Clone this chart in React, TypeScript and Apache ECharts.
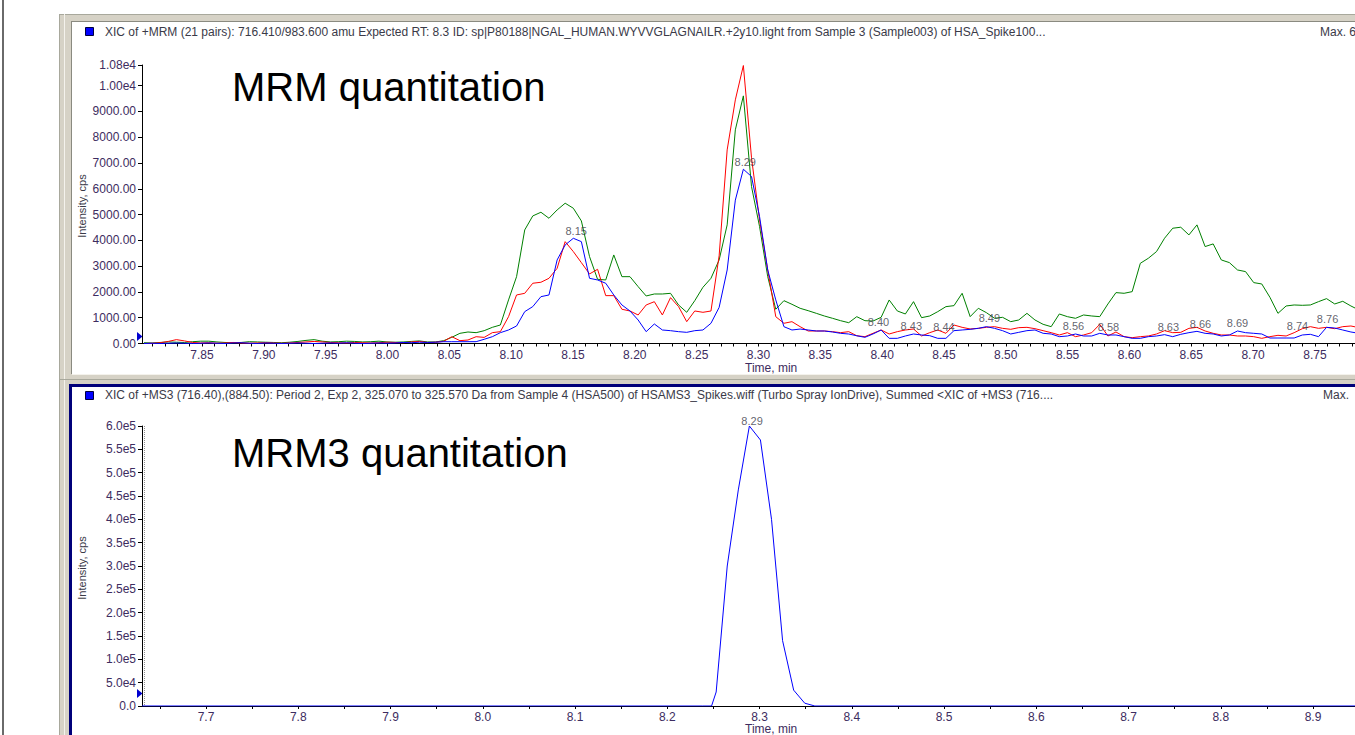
import React, { useEffect, useRef } from 'react';
import * as echarts from 'echarts';

// ---------- Top panel (MRM, 3 transitions) ----------
const times = [
  7.8031, 7.8097, 7.8162, 7.8228, 7.8293, 7.8359, 7.8424, 7.8490, 7.8555, 7.8621,
  7.8686, 7.8752, 7.8817, 7.8883, 7.8948, 7.9014, 7.9079, 7.9145, 7.9210, 7.9276,
  7.9341, 7.9407, 7.9472, 7.9538, 7.9603, 7.9669, 7.9734, 7.9800, 7.9865, 7.9931,
  7.9996, 8.0062, 8.0127, 8.0193, 8.0258, 8.0324, 8.0389, 8.0455, 8.0520, 8.0586,
  8.0651, 8.0717, 8.0782, 8.0848, 8.0913, 8.0979, 8.1044, 8.1110, 8.1175, 8.1241,
  8.1306, 8.1372, 8.1437, 8.1503, 8.1568, 8.1634, 8.1699, 8.1765, 8.1830, 8.1896,
  8.1961, 8.2027, 8.2092, 8.2158, 8.2223, 8.2289, 8.2354, 8.2420, 8.2485, 8.2551,
  8.2616, 8.2682, 8.2747, 8.2813, 8.2878, 8.2944, 8.3009, 8.3075, 8.3140, 8.3206,
  8.3271, 8.3337, 8.3402, 8.3468, 8.3533, 8.3599, 8.3664, 8.3730, 8.3795, 8.3861,
  8.3926, 8.3992, 8.4057, 8.4123, 8.4188, 8.4254, 8.4319, 8.4385, 8.4450, 8.4516,
  8.4581, 8.4647, 8.4712, 8.4778, 8.4843, 8.4909, 8.4974, 8.5040, 8.5105, 8.5171,
  8.5236, 8.5302, 8.5367, 8.5433, 8.5498, 8.5564, 8.5629, 8.5695, 8.5760, 8.5826,
  8.5891, 8.5957, 8.6022, 8.6088, 8.6153, 8.6219, 8.6284, 8.6350, 8.6415, 8.6481,
  8.6546, 8.6612, 8.6677, 8.6743, 8.6808, 8.6874, 8.6939, 8.7005, 8.7070, 8.7136,
  8.7201, 8.7267, 8.7332, 8.7398, 8.7463, 8.7529, 8.7594, 8.7660, 8.7725, 8.7791,
  8.7856,
];

const greenXic = [
  30, 20, 40, 60, 50, 40, 70, 90, 90, 60,
  40, 30, 40, 70, 60, 50, 40, 30, 50, 80,
  120, 150, 90, 60, 70, 90, 80, 60, 70, 90,
  60, 50, 60, 80, 100, 60, 60, 110, 240, 395,
  446, 420, 497, 627, 718, 1690, 2592, 4404, 4947, 5090,
  4856, 5180, 5440, 5245, 4753, 3370, 2490, 2464, 3434, 2592,
  2592, 2205, 1843, 1920, 1920, 1946, 1494, 1210, 1661, 2180,
  2528, 3240, 4600, 8286, 9603, 6085, 4532, 2592, 1327, 1661,
  1520, 1365, 1273, 1170, 1067, 977, 885, 807, 1040, 885,
  870, 1015, 1688, 1262, 1145, 1623, 1002, 1067, 1235, 1429,
  1468, 1947, 1041, 1365, 1197, 977, 1015, 847, 912, 1170,
  912, 744, 653, 1145, 1041, 977, 1106, 1067, 1041, 1533,
  1973, 1947, 2011, 3110, 3306, 3565, 4082, 4470, 4509, 4211,
  4600, 3759, 3862, 3240, 3137, 2852, 2788, 2361, 2309, 1792,
  1170, 1455, 1494, 1481, 1494, 1623, 1740, 1533, 1636, 1455,
  1300,
];

const redXic = [
  0, 10, 30, 80, 150, 100, 40, 20, 30, 10,
  20, 40, 20, 10, 20, 30, 20, 10, 20, 40,
  60, 80, 60, 40, 30, 20, 40, 30, 20, 30,
  50, 40, 30, 60, 80, 40, 50, 85, 264, 110,
  136, 264, 237, 420, 459, 1040, 1882, 1946, 2336, 2375,
  2528, 2916, 3950, 3563, 3136, 2697, 2878, 1856, 1856, 1327,
  1261, 1106, 1494, 1622, 1106, 1778, 1430, 846, 1261, 1210,
  1260, 3400, 7508, 9448, 10780, 7200, 4790, 2850, 1040, 784,
  846, 652, 485, 485, 485, 459, 420, 459, 300, 265,
  395, 524, 369, 459, 524, 563, 291, 420, 524, 395,
  718, 627, 563, 588, 627, 653, 588, 550, 614, 627,
  575, 498, 420, 330, 420, 265, 330, 420, 744, 291,
  446, 265, 226, 265, 291, 369, 498, 420, 433, 588,
  627, 485, 395, 330, 330, 291, 291, 265, 200, 265,
  317, 291, 420, 575, 653, 588, 627, 575, 653, 679,
  614,
];

const blueXic = [
  0, 10, 0, 10, 20, 10, 0, 10, 20, 10,
  0, 20, 30, 10, 0, 20, 10, 0, 10, 20,
  10, 0, 10, 20, 10, 30, 10, 0, 10, 20,
  10, 20, 40, 30, 50, 40, 50, 70, 70, 70,
  70, 71, 163, 264, 420, 524, 679, 1235, 1430, 1816,
  1882, 3240, 3822, 4080, 3950, 2528, 2464, 2336, 1882, 1494,
  1261, 912, 459, 757, 524, 497, 459, 433, 497, 524,
  784, 1400, 2850, 5560, 6758, 6474, 4920, 2852, 1690, 652,
  524, 560, 524, 485, 485, 446, 394, 368, 300, 239,
  369, 524, 200, 200, 291, 369, 330, 304, 200, 200,
  498, 524, 550, 588, 653, 588, 498, 369, 433, 498,
  524, 395, 369, 265, 291, 369, 291, 291, 395, 330,
  330, 265, 200, 200, 265, 291, 343, 265, 356, 420,
  472, 395, 369, 291, 330, 485, 420, 395, 369, 213,
  213, 213, 213, 330, 356, 265, 627, 601, 524, 446,
  395,
];

const peakNames = ['8.15', '8.29', '8.40', '8.43', '8.44', '8.49', '8.56', '8.58', '8.63', '8.66', '8.69', '8.74', '8.76'];
const peakTimes = [8.1526, 8.2893, 8.3970, 8.4236, 8.4500, 8.4867, 8.5547, 8.5830, 8.6315, 8.6574, 8.6874, 8.7359, 8.7602];
const peakValues = [4055, 6732, 524, 369, 330, 679, 369, 330, 330, 446, 485, 369, 640];

const topYTicks = [0, 1000, 2000, 3000, 4000, 5000, 6000, 7000, 8000, 9000, 10000, 10800];
const topXTicks = [7.85, 7.9, 7.95, 8.0, 8.05, 8.1, 8.15, 8.2, 8.25, 8.3, 8.35, 8.4, 8.45, 8.5, 8.55, 8.6, 8.65, 8.7, 8.75];

// ---------- Bottom panel (MRM3) ----------
const ms3Times = [7.6306, 8.238, 8.248, 8.253, 8.265, 8.277, 8.289, 8.301, 8.313, 8.325, 8.337, 8.349, 8.36, 8.946];
const ms3Values = [0, 0, 0, 30000, 300000, 463000, 600000, 570000, 400000, 140000, 34000, 6000, 0, 0];
const ms3PeakName = '8.29';
const ms3PeakTime = 8.2919;
const ms3PeakValue = 595000;

const bottomYTicks = [0, 50000, 100000, 150000, 200000, 250000, 300000, 350000, 400000, 450000, 500000, 550000, 600000];
const bottomXTicks = [7.7, 7.8, 7.9, 8.0, 8.1, 8.2, 8.3, 8.4, 8.5, 8.6, 8.7, 8.8, 8.9];

const topHeader = 'XIC of +MRM (21 pairs): 716.410/983.600 amu Expected RT: 8.3 ID: sp|P80188|NGAL_HUMAN.WYVVGLAGNAILR.+2y10.light from Sample 3 (Sample003) of HSA_Spike100...';
const bottomHeader = 'XIC of +MS3 (716.40),(884.50): Period 2, Exp 2, 325.070 to 325.570 Da from Sample 4 (HSA500) of HSAMS3_Spikes.wiff (Turbo Spray IonDrive), Summed <XIC of +MS3 (716....';

const FONT = '"Liberation Sans", Arial, sans-serif';
const LABEL_COLOR = '#3d2c60';
const TEXT_COLOR = '#3a3a48';

function minorTicks(a: number, b: number, step: number): number[] {
  const out: number[] = [];
  const n = Math.round((b - a) / step);
  for (let i = 0; i <= n; i++) out.push(+(a + i * step).toFixed(4));
  return out;
}

export default function App() {
  const ref = useRef<HTMLDivElement>(null);
  useEffect(() => {
    if (!ref.current) return;
    const chart = echarts.init(ref.current, undefined, { renderer: 'svg' });

    const pair = (xs: number[], ys: number[]) => xs.map((x, i) => [x, ys[i]]);

    const axisLine = { show: true, onZero: false, lineStyle: { color: '#000', width: 1 } };
    const labelBase = { color: LABEL_COLOR, fontSize: 12, fontFamily: FONT };

    const beige = '#d6d2c6';
    const grayDark = '#8a8a80';
    const navy = '#00007a';

    const graphic: any[] = [
      { type: 'rect', shape: { x: 2, y: 0, width: 2, height: 735 }, style: { fill: '#6a6a6a' }, silent: true },
      // top panel frame
      { type: 'rect', shape: { x: 59, y: 14, width: 1300, height: 8 }, style: { fill: beige } },
      { type: 'rect', shape: { x: 59, y: 14, width: 13, height: 721 }, style: { fill: beige } },
      { type: 'rect', shape: { x: 59, y: 374, width: 1300, height: 10 }, style: { fill: beige } },
      { type: 'line', shape: { x1: 59, y1: 14.5, x2: 1355, y2: 14.5 }, style: { stroke: '#a8a89c', lineWidth: 1 } },
      { type: 'line', shape: { x1: 59.5, y1: 14, x2: 59.5, y2: 735 }, style: { stroke: '#a8a89c', lineWidth: 1 } },
      { type: 'line', shape: { x1: 71, y1: 21.5, x2: 1355, y2: 21.5 }, style: { stroke: grayDark, lineWidth: 1 } },
      { type: 'line', shape: { x1: 71.5, y1: 21, x2: 71.5, y2: 374 }, style: { stroke: grayDark, lineWidth: 1 } },
      { type: 'line', shape: { x1: 64.5, y1: 14, x2: 64.5, y2: 735 }, style: { stroke: '#f4f2ec', lineWidth: 1 } },
      { type: 'line', shape: { x1: 72, y1: 374.5, x2: 1355, y2: 374.5 }, style: { stroke: '#f4f2ec', lineWidth: 1 } },
      { type: 'line', shape: { x1: 59, y1: 379.5, x2: 1355, y2: 379.5 }, style: { stroke: '#a8a89c', lineWidth: 1 } },
      // bottom panel: selected (navy) border
      { type: 'rect', shape: { x: 69, y: 384, width: 1290, height: 3 }, style: { fill: navy } },
      { type: 'rect', shape: { x: 69, y: 384, width: 3, height: 351 }, style: { fill: navy } },
      // legend squares
      { type: 'rect', shape: { x: 85.5, y: 27.5, width: 8, height: 8 }, style: { fill: '#0000ff', stroke: '#000040', lineWidth: 1 } },
      { type: 'rect', shape: { x: 85.5, y: 391.5, width: 8, height: 8 }, style: { fill: '#0000ff', stroke: '#000040', lineWidth: 1 } },
      // headers
      { type: 'text', x: 105, y: 32, style: { text: topHeader, font: `12px ${FONT}`, fill: TEXT_COLOR, textVerticalAlign: 'middle' } },
      { type: 'text', x: 105, y: 395, style: { text: bottomHeader, font: `12px ${FONT}`, fill: TEXT_COLOR, textVerticalAlign: 'middle' } },
      { type: 'text', x: 1320, y: 32, style: { text: 'Max. 6', font: `12px ${FONT}`, fill: TEXT_COLOR, textVerticalAlign: 'middle' } },
      { type: 'text', x: 1323, y: 395, style: { text: 'Max.', font: `12px ${FONT}`, fill: TEXT_COLOR, textVerticalAlign: 'middle' } },
      // annotations
      { type: 'text', x: 232, y: 87, style: { text: 'MRM quantitation', font: `40px ${FONT}`, fill: '#000', textVerticalAlign: 'middle' } },
      { type: 'text', x: 232, y: 453, style: { text: 'MRM3 quantitation', font: `40px ${FONT}`, fill: '#000', textVerticalAlign: 'middle' } },
      // axis titles
      { type: 'text', x: 82, y: 206, rotation: Math.PI / 2, style: { text: 'Intensity, cps', font: `11px ${FONT}`, fill: TEXT_COLOR, textAlign: 'center', textVerticalAlign: 'middle' } },
      { type: 'text', x: 82, y: 568, rotation: Math.PI / 2, style: { text: 'Intensity, cps', font: `11px ${FONT}`, fill: TEXT_COLOR, textAlign: 'center', textVerticalAlign: 'middle' } },
      { type: 'text', x: 745, y: 368, style: { text: 'Time, min', font: `12px ${FONT}`, fill: LABEL_COLOR, textVerticalAlign: 'middle' } },
      { type: 'text', x: 745, y: 729, style: { text: 'Time, min', font: `12px ${FONT}`, fill: LABEL_COLOR, textVerticalAlign: 'middle' } },
      // threshold markers
      { type: 'polygon', shape: { points: [[137, 332], [137, 341], [142.5, 336.5]] }, style: { fill: '#0000d0' } },
      { type: 'polygon', shape: { points: [[137, 689], [137, 698], [142.5, 693.5]] }, style: { fill: '#0000d0' } },
      { type: 'line', shape: { x1: 144.5, y1: 426, x2: 144.5, y2: 706 }, style: { stroke: '#909090', lineWidth: 1, lineDash: [1, 1] } },
    ];

    const option: any = {
      animation: false,
      backgroundColor: '#ffffff',
      graphic,
      grid: [
        { left: 142, top: 65, width: 1213, height: 278.5, containLabel: false },
        { left: 142, top: 426, width: 1213, height: 280, containLabel: false },
      ],
      xAxis: [
        {
          type: 'value', gridIndex: 0, min: 7.8015, max: 8.7824,
          axisLine,
          axisTick: { show: true, length: 3, inside: false, customValues: minorTicks(7.81, 8.78, 0.01), lineStyle: { color: '#000' } },
          axisLabel: { ...labelBase, margin: 5, customValues: topXTicks, formatter: (v: number) => v.toFixed(2) },
          splitLine: { show: false },
        },
        {
          type: 'value', gridIndex: 1, min: 7.6306, max: 8.9455,
          axisLine,
          axisTick: { show: true, length: 3, inside: false, customValues: minorTicks(7.65, 8.9, 0.05), lineStyle: { color: '#000' } },
          axisLabel: { ...labelBase, margin: 5, customValues: bottomXTicks, formatter: (v: number) => v.toFixed(1) },
          splitLine: { show: false },
        },
      ],
      yAxis: [
        {
          type: 'value', gridIndex: 0, min: 0, max: 10800,
          axisLine,
          axisTick: { show: true, length: 4, customValues: topYTicks, lineStyle: { color: '#000' } },
          axisLabel: {
            ...labelBase, margin: 6, customValues: topYTicks,
            formatter: (v: number) => (v >= 10000 ? (v / 10000).toFixed(2) + 'e4' : v.toFixed(2)),
          },
          splitLine: { show: false },
        },
        {
          type: 'value', gridIndex: 1, min: 0, max: 600000,
          axisLine,
          axisTick: { show: true, length: 4, customValues: bottomYTicks, lineStyle: { color: '#000' } },
          axisLabel: {
            ...labelBase, margin: 6, customValues: bottomYTicks,
            formatter: (v: number) => {
              if (v === 0) return '0.0';
              if (v < 100000) return (v / 10000).toFixed(1) + 'e4';
              return (v / 100000).toFixed(1) + 'e5';
            },
          },
          splitLine: { show: false },
        },
      ],
      series: [
        {
          type: 'line', name: 'transition 3', xAxisIndex: 0, yAxisIndex: 0, data: pair(times, greenXic),
          showSymbol: false, symbol: 'none', lineStyle: { color: '#008000', width: 1 }, z: 3,
        },
        {
          type: 'line', name: 'transition 2', xAxisIndex: 0, yAxisIndex: 0, data: pair(times, redXic),
          showSymbol: false, symbol: 'none', lineStyle: { color: '#ff0000', width: 1 }, z: 4,
        },
        {
          type: 'line', name: 'transition 1', xAxisIndex: 0, yAxisIndex: 0, data: pair(times, blueXic),
          showSymbol: false, symbol: 'none', lineStyle: { color: '#0000ff', width: 1 }, z: 5,
        },
        {
          type: 'scatter', name: 'peak labels', xAxisIndex: 0, yAxisIndex: 0,
          data: peakTimes.map((t, i) => ({ value: [t, peakValues[i]], name: peakNames[i] })),
          symbolSize: 0.01, itemStyle: { color: 'rgba(0,0,0,0)' },
          label: { show: true, position: 'top', distance: 2, formatter: (p: any) => p.name, color: TEXT_COLOR, fontSize: 11, fontFamily: FONT },
          z: 6,
        },
        {
          type: 'line', name: 'MS3', xAxisIndex: 1, yAxisIndex: 1, data: pair(ms3Times, ms3Values),
          showSymbol: false, symbol: 'none', lineStyle: { color: '#0000ff', width: 1 }, z: 5,
        },
        {
          type: 'scatter', name: 'MS3 peak label', xAxisIndex: 1, yAxisIndex: 1,
          data: [{ value: [ms3PeakTime, ms3PeakValue], name: ms3PeakName }],
          symbolSize: 0.01, itemStyle: { color: 'rgba(0,0,0,0)' },
          label: { show: true, position: 'top', distance: 2, formatter: (p: any) => p.name, color: TEXT_COLOR, fontSize: 11, fontFamily: FONT },
          z: 6,
        },
      ],
    };

    chart.setOption(option);
    return () => chart.dispose();
  }, []);

  return (
    <div
      ref={ref}
      style={{ position: 'fixed', left: 0, top: 0, width: 1355, height: 735, background: '#fff' }}
    />
  );
}
